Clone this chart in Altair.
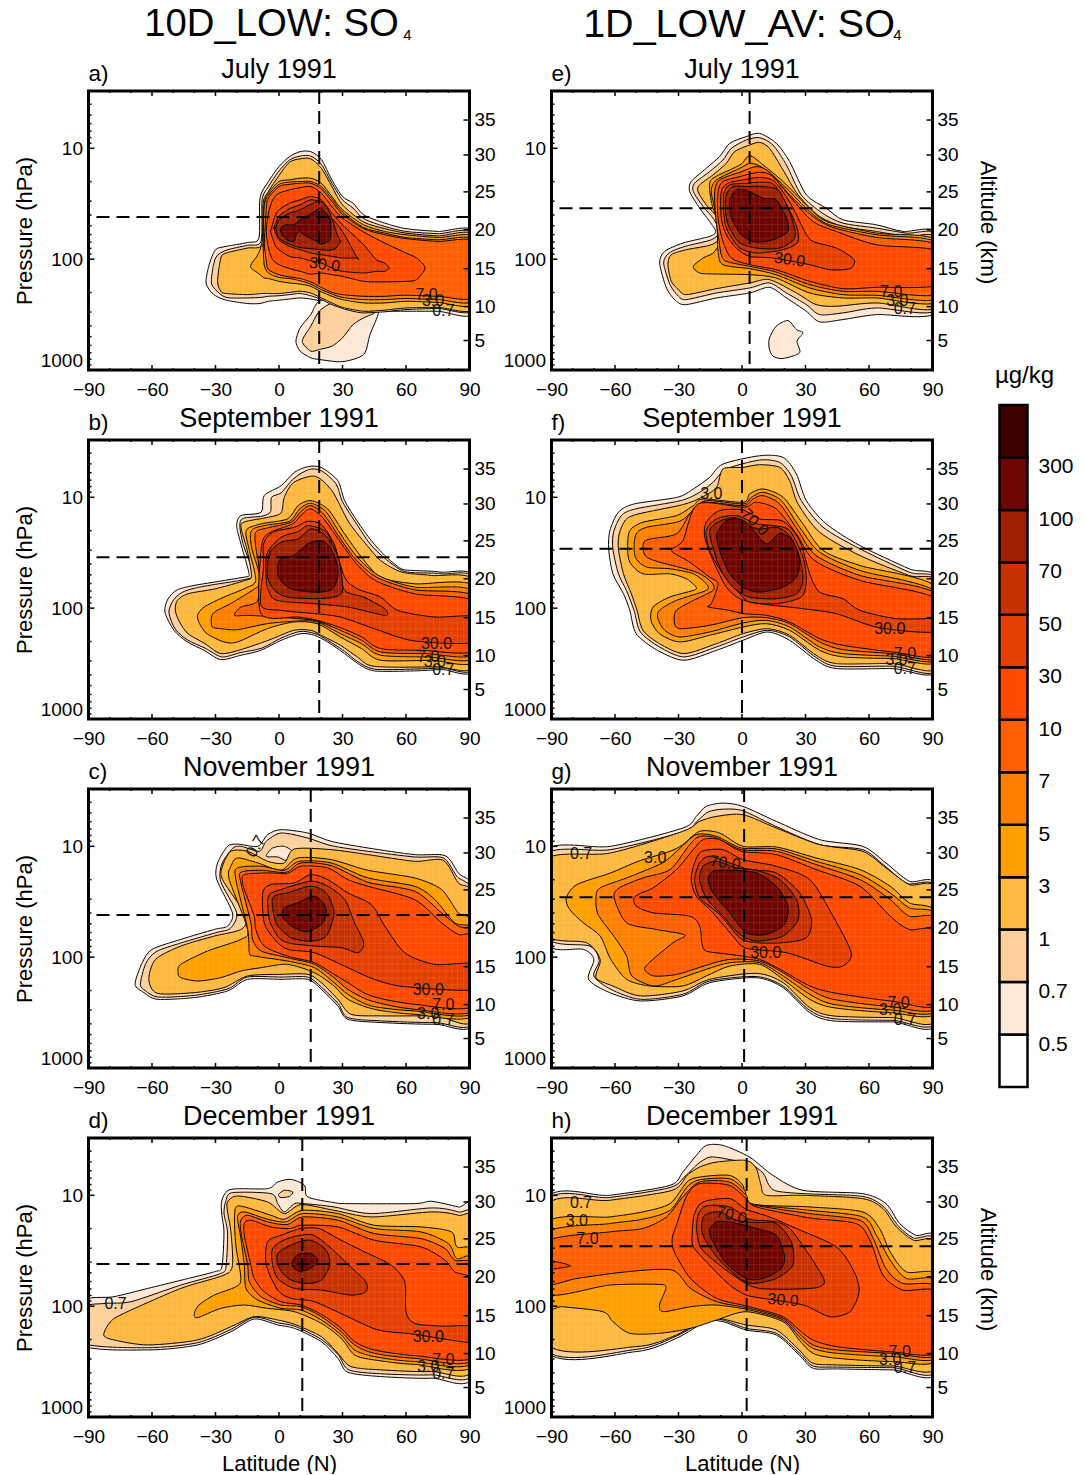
import altair as alt, pandas as pd

FONT = "Liberation Sans"
W, H = 381, 279
LEVEL_COLORS = {0.5:"#FEE8D6",0.7:"#FDD09B",1:"#FDB93F",3:"#FF9F00",5:"#FF8000",7:"#FF5F00",10:"#FF4A00",
                30:"#E54000",50:"#C83200",70:"#9E2000",100:"#6E0500",300:"#3C0000"}
PANELS = ["a","b","c","d","e","f","g","h"]
MONTHS = {"a":"July 1991","b":"September 1991","c":"November 1991","d":"December 1991",
          "e":"July 1991","f":"September 1991","g":"November 1991","h":"December 1991"}
VOLCANO = {"a":(19,1.62),"b":(19,1.54),"c":(15,1.62),"d":(11,1.62),"e":(3.6,1.54),"f":(0,1.465),"g":(1,1.46),"h":(2.2,1.46)}
C = {p:[] for p in PANELS}
def add(p, level, lat, logp):
    C[p].append((level, lat, logp))
def band(p, level, lat, top, bot):
    C[p].append((level, lat+lat[::-1], top+bot[::-1]))
def poly(p, level, pts):
    C[p].append((level, [q[0] for q in pts], [q[1] for q in pts]))

# ---------- panel a : outlines read as latitude / log10(pressure)
add("a",0.5,[-34.5,-33,-30,-25,-15,-9.5,-9,-5,0,5,10,15,20,25,30,35,40,50,60,75,90,90,75,60,50,40,35,30,25,20,15,10,5,0,-5,-9,-15,-25,-30,-33],
 [2.2,2.05,1.915,1.885,1.85,1.81,1.45,1.3,1.165,1.075,1.03,1.03,1.1,1.285,1.435,1.495,1.6,1.675,1.725,1.75,1.765,2.475,2.47,2.47,2.47,2.48,2.455,2.43,2.41,2.38,2.36,2.35,2.36,2.37,2.38,2.4,2.4,2.37,2.33,2.275])
add("a",0.5,[8,10,15,19,30,40,43,47,43,40,30,19,15,10],[2.74,2.62,2.5,2.38,2.35,2.38,2.44,2.48,2.68,2.86,2.925,2.905,2.89,2.83])
add("a",0.7,[11,15,19,25,30,35,40,45,40,35,30,25,19,15],[2.74,2.605,2.47,2.395,2.395,2.425,2.47,2.485,2.53,2.59,2.71,2.785,2.815,2.83])
add("a",0.7,[-32,-30,-25,-15,-8.5,-8,-5,0,5,10,15,20,25,30,35,40,50,60,75,90,90,75,60,50,40,35,30,25,20,15,10,5,0,-5,-8.5,-15,-25,-30],
 [2.2,1.99,1.92,1.875,1.84,1.465,1.345,1.205,1.105,1.07,1.07,1.145,1.315,1.465,1.54,1.635,1.705,1.75,1.77,1.78,2.445,2.445,2.455,2.475,2.485,2.47,2.445,2.41,2.365,2.33,2.31,2.32,2.33,2.335,2.345,2.35,2.345,2.275])
add("a",1,[-29,-27.5,-25,-15,-8,-7.5,-5,0,5,10,15,20,25,30,40,50,60,75,90,90,75,60,50,40,30,25,20,15,10,5,0,-5,-8,-15,-25,-27.5],
 [2.2,1.99,1.945,1.9,1.865,1.495,1.39,1.245,1.125,1.095,1.095,1.18,1.345,1.51,1.665,1.725,1.765,1.79,1.795,2.435,2.435,2.44,2.46,2.47,2.435,2.395,2.35,2.305,2.29,2.3,2.31,2.31,2.31,2.32,2.31,2.29])
add("a",3,[-13.5,-10,-8,-7,-5,0,5,10,15,20,25,30,40,50,60,75,90,90,75,60,50,40,30,25,20,15,10,5,0,-5,-7,-8,-10],
 [2.065,1.96,1.84,1.51,1.405,1.3,1.285,1.27,1.27,1.315,1.435,1.555,1.69,1.75,1.78,1.805,1.815,2.395,2.39,2.38,2.395,2.395,2.365,2.335,2.295,2.245,2.225,2.215,2.2,2.175,2.17,2.155,2.125])
band("a",5,[-7.5,-7,-5,0,5,10,15,20,25,30,40,50,60,75,90],[1.87,1.525,1.425,1.325,1.305,1.3,1.3,1.345,1.455,1.575,1.715,1.765,1.805,1.825,1.835],
 [1.87,2.05,2.125,2.165,2.175,2.195,2.225,2.275,2.315,2.345,2.365,2.365,2.355,2.365,2.365])
band("a",7,[-7,-6,-5,0,5,10,15,20,25,30,40,50,60,75,90],[1.87,1.54,1.45,1.345,1.325,1.315,1.315,1.365,1.48,1.595,1.725,1.78,1.815,1.84,1.85],
 [1.87,2.02,2.095,2.14,2.16,2.175,2.205,2.255,2.3,2.32,2.335,2.335,2.325,2.335,2.335])
add("a",10,[-6,-5,-3,0,5,10,15,20,25,30,40,50,60,65,69,65,60,50,40,30,25,20,15,10,5,0,-3,-5],
 [1.75,1.585,1.465,1.405,1.375,1.355,1.345,1.405,1.525,1.63,1.755,1.855,1.945,1.99,2.08,2.185,2.2,2.205,2.2,2.155,2.14,2.125,2.135,2.11,2.085,2.05,2.005,1.9])
band("a",30,[-4,-2,0,5,10,15,20,25,30,40,46,50,52],[1.75,1.615,1.555,1.495,1.465,1.435,1.465,1.585,1.69,1.87,2.005,2.035,2.08],
 [1.75,1.87,1.915,1.975,1.99,2.015,2.035,2.08,2.11,2.125,2.11,2.11,2.08])
band("a",50,[-2.5,0,5,10,15,20,25,30,37],[1.72,1.615,1.545,1.51,1.465,1.495,1.63,1.75,1.99],[1.72,1.825,1.885,1.915,1.945,1.96,1.975,1.99,1.99])
band("a",70,[-1.5,0,5,10,15,20,24,27,29],[1.72,1.645,1.585,1.555,1.505,1.48,1.585,1.75,1.84],[1.72,1.81,1.865,1.895,1.905,1.915,1.92,1.90,1.84])
add("a",100,[0.5,3,7,9,13,18,20,24,24.5,24,20,18,13,9,7,3],[1.735,1.69,1.69,1.66,1.615,1.555,1.54,1.63,1.735,1.825,1.865,1.84,1.795,1.75,1.84,1.815])

# ---------- panel b
poly("b",0.5,[(-53.9,2.035),(-52.4,1.915),(-48,1.834),(-40.1,1.795),(-30.6,1.765),(-16.4,1.72),(-14.1,1.705),(-15.3,1.6),(-18,1.42),(-20,1.255),(-18,1.165),(-8.5,1.135),(-7,.985),(1,.895),(7.3,.775),(13.6,.724),(19.9,.73),(27.8,.85),(31,1.03),(37.3,1.225),(43.6,1.39),(50,1.525),(57.8,1.645),(64,1.66),(76.8,1.675),(90,1.735),(90,2.545),(76.8,2.554),(64,2.566),(45,2.566),(37.3,2.5),(31,2.41),(23,2.305),(16.7,2.245),(10.4,2.23),(1,2.29),(-8.5,2.38),(-18,2.425),(-27.5,2.464),(-35.4,2.38),(-43.3,2.305),(-49.6,2.2)])
poly("b",0.7,[(-52,2.04),(-50,1.93),(-46,1.86),(-40,1.82),(-30,1.785),(-17,1.745),(-12.5,1.71),(-14,1.58),(-17,1.42),(-18.5,1.26),(-17,1.19),(-8,1.17),(-4,1.13),(-3.5,1.0),(1,.96),(7,.83),(14,.75),(20,.76),(27,.88),(30,1.04),(37,1.25),(43,1.42),(50,1.55),(58,1.66),(64,1.68),(77,1.69),(90,1.75),(90,2.53),(77,2.54),(64,2.55),(45,2.55),(37,2.48),(31,2.39),(23,2.29),(17,2.23),(10,2.21),(1,2.27),(-8,2.36),(-18,2.4),(-27,2.44),(-35,2.36),(-43,2.29),(-49,2.19)])
poly("b",1,[(-49,2.02),(-48,1.93),(-43,1.87),(-30,1.825),(-16,1.75),(-13,1.71),(-15,1.48),(-18,1.27),(-16,1.22),(-5,1.18),(1,1.14),(2.5,1.0),(7,.865),(17,.81),(25,.94),(33,1.225),(41,1.42),(48,1.57),(58,1.675),(72,1.705),(90,1.765),(90,2.515),(74,2.53),(45,2.525),(37,2.44),(29,2.335),(20,2.245),(15,2.2),(7,2.2),(-5,2.29),(-18,2.374),(-27.5,2.41),(-35,2.32),(-43,2.23),(-47,2.125)])
poly("b",3,[(-38.5,2.065),(-35.4,1.99),(-26,1.9),(-16.5,1.825),(-11,1.75),(-14,1.48),(-15.5,1.3),(-8.5,1.24),(4,1.195),(9,1.075),(15,1.03),(23,1.105),(31,1.33),(39,1.54),(48,1.72),(64,1.78),(90,1.81),(90,2.47),(72,2.47),(48,2.47),(39,2.365),(29,2.26),(18,2.14),(7,2.125),(-5.5,2.185),(-19.6,2.305),(-26,2.305),(-34,2.23),(-37.5,2.14)])
poly("b",5,[(-32,2.095),(-30.5,2.035),(-23,1.96),(-11.5,1.825),(-8.5,1.75),(-13,1.45),(-13,1.3),(-7,1.255),(5,1.216),(9.7,1.105),(15,1.054),(22,1.126),(29,1.33),(37,1.54),(47,1.705),(64,1.81),(90,1.855),(90,2.44),(70,2.44),(48,2.425),(39,2.32),(29,2.23),(18,2.125),(9,2.116),(-5.5,2.14),(-19.6,2.194),(-27.5,2.185),(-31.5,2.17)])
poly("b",7,[(-21,2.065),(-18,1.99),(-10,1.93),(-9.5,1.63),(-11,1.45),(-11,1.315),(-5.5,1.276),(5.7,1.225),(10.4,1.126),(15,1.075),(21,1.15),(28,1.345),(36,1.555),(46,1.72),(64,1.834),(90,1.9),(90,2.41),(69,2.41),(48,2.395),(39,2.29),(29,2.2),(18,2.116),(9,2.095),(-5.5,2.074),(-15,2.065)])
poly("b",10,[(-8.5,2.05),(-8.5,1.48),(-5.4,1.33),(6.4,1.24),(11,1.15),(15,1.105),(20.5,1.18),(28,1.375),(36,1.585),(45.5,1.75),(64,1.87),(90,1.945),(90,2.38),(67,2.38),(48,2.365),(39,2.26),(29,2.176),(18,2.11),(9,2.08)])
poly("b",30,[(-8.5,1.975),(-7.3,1.63),(-7.3,1.42),(-3,1.315),(7.3,1.27),(13.6,1.216),(20,1.246),(26,1.42),(31,1.72),(37,1.825),(48,1.9),(56,2.02),(73.6,2.08),(90,2.08),(90,2.305),(64,2.296),(45,2.185),(29,2.08),(17,2.05),(1,2.02)])
poly("b",50,[(-6,1.75),(-5.7,1.51),(1,1.36),(9,1.31),(14,1.255),(23,1.33),(28.6,1.63),(31,1.84),(40,1.9),(50,2.005),(51,2.065),(46,2.05),(32.5,1.99),(17,1.96),(-1,1.93),(-5,1.84)])
poly("b",70,[(-5.4,1.72),(-4.6,1.51),(1,1.405),(9,1.375),(15,1.285),(22,1.345),(28,1.54),(30,1.84),(26,1.9),(17,1.915),(4,1.9),(-2,1.84)])
poly("b",100,[(-.6,1.66),(.6,1.555),(7,1.525),(13.6,1.42),(20,1.39),(24.6,1.465),(28,1.66),(25.4,1.825),(17,1.855),(5.7,1.825),(.2,1.735)])

# ---------- panel c
poly("c",0.5,[(-68,2.245),(-64.6,2.05),(-60,1.93),(-46.4,1.84),(-30.6,1.75),(-24.3,1.72),(-22,1.6),(-29.4,1.3),(-29,1.15),(-24.3,1.0),(-19.6,.98),(-10,1.0),(-5.4,.895),(1,.85),(13.6,.88),(24.6,.955),(42,1.015),(64,1.075),(78.4,1.084),(84.7,1.24),(90,1.45),(90,2.575),(73.6,2.605),(48.3,2.59),(32.5,2.56),(27.8,2.44),(20,2.29),(13.6,2.2),(1,2.2),(-14.8,2.2),(-24.3,2.305),(-40,2.365),(-57.5,2.38),(-63.8,2.32)])
poly("c",0.7,[(-65.5,2.245),(-63,2.06),(-58,1.95),(-46,1.87),(-30,1.78),(-23,1.74),(-20,1.6),(-27.5,1.32),(-27,1.16),(-22,1.02),(-18,1.0),(-9.3,1.045),(-6,.955),(1,.88),(13.6,.925),(24.6,.994),(42,1.045),(64,1.096),(77.6,1.105),(84,1.27),(90,1.48),(90,2.56),(73.6,2.59),(48,2.575),(32.5,2.545),(28,2.42),(20,2.27),(13.6,2.18),(1,2.18),(-15,2.18),(-24,2.285),(-40,2.345),(-57,2.36),(-63,2.305)])
poly("c",0.5,[(-6,1.09),(-3,1.015),(2.5,1.0),(6.5,1.055),(3.3,1.126),(-.6,1.096)])
poly("c",1,[(-61.5,2.2),(-58.3,2.02),(-46.4,1.9),(-30.6,1.81),(-18,1.75),(-15.6,1.63),(-26.7,1.3),(-26.7,1.18),(-22.7,1.045),(-14.8,1.045),(-5.4,1.135),(2.5,1.15),(7.3,1.024),(24.6,1.03),(42,1.075),(64,1.135),(77.6,1.126),(84.7,1.33),(90,1.48),(90,2.545),(73.6,2.53),(48.3,2.53),(34,2.515),(27.8,2.38),(20,2.23),(13.6,2.155),(1,2.155),(-14.8,2.17),(-26,2.275),(-40,2.32),(-57.5,2.326)])
poly("c",3,[(-47.7,2.14),(-46.4,2.065),(-33.8,1.945),(-18,1.84),(-14.8,1.75),(-23.5,1.3),(-22.7,1.18),(-19.6,1.105),(-10,1.15),(1,1.216),(8.8,1.105),(24.6,1.12),(42,1.216),(64,1.285),(76.8,1.39),(84.7,1.6),(90,1.72),(90,2.51),(64,2.515),(45,2.47),(32.5,2.38),(26,2.26),(16.7,2.14),(4,2.065),(-8.5,2.095),(-18,2.125),(-27.5,2.185),(-38.5,2.215),(-46.4,2.185)])
poly("c",5,[(-20.4,1.3),(-19.6,1.195),(-8.5,1.18),(2.5,1.216),(9.6,1.135),(24.6,1.15),(42,1.285),(64,1.36),(73.6,1.48),(83,1.69),(90,1.78),(90,2.49),(64,2.485),(43.6,2.44),(32.5,2.335),(26,2.23),(16.7,2.095),(4,2.035),(-11.7,1.99),(-14,1.96),(-14.8,1.75)])
poly("c",7,[(-18,1.33),(-18,1.234),(-8.5,1.216),(3.3,1.234),(10.4,1.15),(24.6,1.174),(42,1.324),(64,1.405),(76.8,1.6),(84.7,1.72),(90,1.8),(90,2.47),(64,2.47),(43.6,2.395),(32.5,2.29),(26,2.185),(16.7,2.065),(4,2.005),(-8.5,1.945),(-12.5,1.84),(-13.3,1.69)])
poly("c",10,[(-17.2,1.33),(-16.4,1.255),(-3.8,1.24),(4,1.246),(10.4,1.18),(23,1.195),(32.5,1.3),(42,1.36),(64,1.48),(76.8,1.69),(84.7,1.795),(90,1.83),(90,2.43),(64,2.425),(43.6,2.35),(32.5,2.23),(26,2.155),(16.7,2.05),(4,1.99),(-7,1.9),(-11,1.75),(-11.7,1.63),(-16.4,1.39)])
poly("c",30,[(-7.7,1.42),(-3.8,1.345),(7.3,1.33),(15,1.255),(23,1.3),(32.5,1.42),(43.6,1.525),(50,1.72),(59.4,1.96),(73.6,2.065),(90,2.065),(90,2.29),(59.4,2.266),(45,2.2),(32.5,2.095),(16.7,1.96),(4,1.93),(-2,1.84),(-7,1.69)])
poly("c",50,[(-5,1.45),(1,1.39),(15,1.315),(23,1.36),(31,1.48),(35.7,1.69),(40,1.87),(37.3,1.96),(29.4,1.915),(16.7,1.9),(4,1.87),(-.6,1.81),(-4.6,1.66)])
poly("c",70,[(-3,1.465),(4,1.42),(15,1.36),(22.3,1.42),(26,1.6),(22.3,1.81),(15,1.855),(5.7,1.825),(-1.4,1.69)])
poly("c",100,[(1.7,1.615),(2.5,1.555),(8.8,1.51),(16.7,1.45),(22.3,1.555),(20.7,1.69),(13.6,1.77),(7.3,1.735),(2.5,1.66)])

# ---------- panel d
poly("d",0.5,[(-90,1.96),(-78,1.915),(-62,1.84),(-46,1.765),(-30.6,1.69),(-27,1.645),(-26,1.33),(-27,1.18),(-27,1.045),(-22.7,.946),(-5.4,.94),(-.6,.88),(5.7,.856),(12,.91),(13.6,1.015),(26,1.066),(32.5,1.075),(64,1.075),(72,1.054),(84.7,1.105),(90,1.15),(90,2.596),(72,2.65),(48,2.635),(32.5,2.596),(27.8,2.47),(20,2.32),(7.3,2.2),(-.6,2.17),(-11.7,2.116),(-22.7,2.23),(-38.5,2.35),(-62,2.395),(-90,2.35)])
poly("d",0.7,[(-90,2.02),(-82,1.975),(-70,1.96),(-46.4,1.81),(-27.5,1.705),(-25,1.63),(-24.3,1.33),(-26,1.165),(-25,1.045),(-22,.976),(-3.8,.985),(-.6,1.075),(2.5,1.15),(7.3,1.075),(12,1.075),(26,1.105),(43.6,1.165),(72,1.114),(84.7,1.15),(90,1.24),(90,2.57),(72,2.62),(48,2.61),(33,2.575),(28,2.44),(20,2.3),(7.3,2.18),(-.6,2.15),(-11.7,2.1),(-22.7,2.21),(-38.5,2.33),(-62,2.375),(-90,2.33)])
poly("d",0.7,[(-.3,.994),(2.5,.955),(6.5,.97),(4.9,1.01),(1,1.02)])
poly("d",1,[(-82.8,2.26),(-79.6,2.14),(-73.3,2.065),(-46.4,1.84),(-26,1.72),(-22,1.63),(-22.7,1.33),(-24.3,1.15),(-24.3,1.06),(-19.6,1.006),(-5.4,1.06),(2.5,1.165),(10.4,1.084),(26,1.135),(43.6,1.195),(72,1.15),(84.7,1.18),(90,1.27),(90,2.54),(72,2.59),(48.3,2.575),(34,2.545),(27.8,2.425),(20,2.275),(7.3,2.164),(-.6,2.125),(-11.7,2.095),(-22.7,2.185),(-38.5,2.305),(-62,2.35),(-78,2.305)])
poly("d",3,[(-40,2.065),(-37.8,1.99),(-30.6,1.9),(-20.4,1.825),(-18,1.75),(-20.4,1.45),(-21,1.18),(-18.8,1.096),(-3.8,1.18),(2.5,1.216),(11.2,1.135),(27.8,1.165),(45,1.27),(67,1.285),(81.5,1.33),(84,1.465),(90,1.55),(90,2.52),(64,2.525),(45,2.485),(35.7,2.44),(29.4,2.29),(20,2.155),(7.3,2.05),(-5.4,2.02),(-16.4,1.99),(-27.5,2.02),(-38.5,2.104)])
poly("d",5,[(-18,1.39),(-19.6,1.195),(-16.4,1.15),(-5.4,1.216),(3.3,1.24),(11.2,1.165),(27.8,1.195),(45,1.3),(67,1.33),(80,1.435),(84,1.57),(90,1.6),(90,2.49),(64,2.5),(45,2.455),(35.7,2.395),(29.4,2.26),(20,2.125),(10.4,2.035),(1,2.02),(-10,1.945),(-15.6,1.84),(-16.4,1.63)])
poly("d",7,[(-18,1.33),(-18,1.225),(-14.8,1.18),(-5.4,1.24),(4,1.264),(11.2,1.195),(27.8,1.225),(45,1.345),(67,1.39),(78.4,1.48),(83,1.585),(90,1.66),(90,2.47),(64,2.47),(45,2.425),(35.7,2.35),(29.4,2.23),(20,2.095),(10.4,2.005),(1,1.99),(-8.5,1.915),(-14,1.78),(-14.8,1.63)])
poly("d",10,[(-16.4,1.36),(-16.4,1.255),(-13.3,1.225),(-3.8,1.285),(4.9,1.3),(11.2,1.27),(27.8,1.285),(45,1.405),(67,1.465),(78.4,1.585),(83,1.69),(90,1.8),(90,2.45),(64,2.446),(45,2.395),(35.7,2.32),(29.4,2.2),(20,2.074),(10.4,1.99),(1,1.96),(-7,1.87),(-11.7,1.75),(-13.3,1.63)])
poly("d",30,[(-5.4,1.42),(1,1.36),(10.4,1.3),(19,1.3),(27.8,1.39),(40.4,1.51),(53,1.63),(59.4,1.78),(60,2.05),(64,2.155),(76.8,2.18),(90,2.185),(90,2.33),(64,2.254),(46.8,2.215),(32.5,2.095),(16.7,1.96),(5.7,1.93),(-.6,1.855),(-6,1.63)])
poly("d",50,[(-3,1.48),(4,1.39),(15,1.354),(23,1.45),(33,1.63),(41,1.78),(41,1.87),(34,1.9),(20,1.855),(7.3,1.84),(-.6,1.75),(-3,1.63)])
poly("d",70,[(-.6,1.525),(7.3,1.435),(15,1.405),(22.3,1.495),(24,1.63),(20,1.765),(13.6,1.795),(5.7,1.765),(.2,1.66)])
poly("d",100,[(6,1.615),(8.8,1.534),(15,1.525),(18.3,1.585),(16,1.645),(10.4,1.69),(7.3,1.66)])

# ---------- panel e
poly("e",0.5,[(-38.9,2.035),(-36.5,1.93),(-27.9,1.855),(-15.3,1.795),(-12.4,1.75),(-15.3,1.66),(-20,1.54),(-24.7,1.39),(-24,1.3),(-16.9,1.18),(-10.6,1.075),(-5.8,.955),(2,.895),(8.3,.865),(16.2,.955),(22.5,1.12),(30.4,1.42),(39.8,1.54),(47.7,1.645),(63.5,1.69),(76,1.75),(90,1.775),(90,2.47),(63.5,2.5),(47.7,2.545),(36.7,2.566),(30.4,2.47),(21,2.35),(13,2.254),(3.6,2.305),(-12,2.35),(-26.3,2.41),(-31,2.38),(-35.7,2.26)])
poly("e",0.5,[(12.8,2.8),(13,2.71),(16.2,2.605),(21.7,2.554),(25.7,2.635),(28.8,2.665),(26,2.74),(27.2,2.845),(19.4,2.896),(14.6,2.875)])
poly("e",0.7,[(-37,2.035),(-34.5,1.945),(-27,1.885),(-14.5,1.825),(-10.6,1.75),(-13.7,1.63),(-18.4,1.525),(-23,1.39),(-22.4,1.315),(-15.3,1.21),(-9,1.105),(-5,1.0),(2,.925),(8.3,.904),(14.6,.97),(21,1.15),(28,1.42),(38,1.585),(47.7,1.675),(63.5,1.72),(77.6,1.765),(90,1.795),(90,2.45),(63.5,2.44),(47.7,2.485),(36.7,2.5),(30.4,2.41),(21,2.305),(13,2.215),(3.6,2.26),(-12,2.305),(-26.3,2.365),(-30,2.335),(-34,2.23)])
poly("e",1,[(-35,2.05),(-33.4,1.96),(-26.3,1.915),(-13.7,1.864),(-8.2,1.75),(-11.3,1.63),(-16.9,1.51),(-20.8,1.39),(-20,1.33),(-13.7,1.24),(-7.4,1.135),(-3.5,1.03),(3.6,.97),(8.3,.946),(13,1.0),(19.4,1.195),(26.5,1.42),(36.7,1.615),(47.7,1.705),(63.5,1.75),(77.6,1.795),(90,1.82),(90,2.43),(63.5,2.395),(44.6,2.425),(35,2.41),(25.7,2.305),(13,2.185),(3.6,2.215),(-12,2.266),(-26.3,2.32),(-30,2.275),(-33.4,2.2)])
poly("e",3,[(-23,2.065),(-18.4,1.99),(-13.7,1.945),(-9.8,1.84),(-9,1.75),(-13.7,1.54),(-15.3,1.36),(-13.7,1.27),(-1,1.15),(3.6,1.066),(10,1.15),(19.4,1.3),(30.4,1.51),(40,1.66),(63.5,1.765),(90,1.84),(90,2.38),(63.5,2.35),(47.7,2.35),(32,2.305),(16,2.17),(3.6,2.14),(-12,2.134),(-20,2.125)])
poly("e",5,[(-11.3,1.93),(-12,1.63),(-14.5,1.39),(-12,1.285),(-1,1.18),(4.4,1.135),(11.5,1.195),(21,1.36),(32,1.57),(41.4,1.69),(63.5,1.78),(90,1.86),(90,2.35),(63.5,2.326),(47.7,2.32),(32,2.26),(16,2.14),(3.6,2.086),(-9,2.05)])
poly("e",7,[(-10.6,1.87),(-12.4,1.63),(-12.9,1.39),(-10.6,1.285),(-1,1.216),(6.8,1.165),(13,1.216),(22.5,1.42),(33.5,1.615),(43,1.714),(63.5,1.804),(90,1.88),(90,2.31),(63.5,2.29),(47.7,2.29),(32,2.23),(16,2.116),(3.6,2.065),(-7.4,2.02),(-9.8,1.96)])
poly("e",10,[(-9,1.84),(-11.3,1.63),(-11.3,1.39),(-9,1.3),(-1,1.255),(8.3,1.216),(14.6,1.255),(23.3,1.45),(33.5,1.66),(44.6,1.75),(63.5,1.87),(90,1.93),(90,2.23),(63.5,2.254),(47.7,2.266),(32,2.2),(16,2.095),(3.6,2.05),(-5,1.99)])
poly("e",30,[(-7.4,1.78),(-9.8,1.63),(-9.8,1.39),(-6.6,1.315),(.5,1.285),(8.3,1.264),(15.4,1.3),(23.3,1.51),(29.6,1.75),(33.5,1.84),(44.6,1.9),(53,2.005),(51,2.086),(41.4,2.095),(32,2.05),(14.6,1.99),(3.6,1.975),(-2.7,1.9)])
poly("e",50,[(-8.2,1.66),(-8.7,1.42),(-5.8,1.33),(2,1.315),(10,1.306),(16,1.345),(24.9,1.66),(26.5,1.84),(19.4,1.915),(6.8,1.945),(-1,1.9),(-5.8,1.78)])
poly("e",70,[(-7.4,1.63),(-7.7,1.435),(-4.3,1.345),(2,1.345),(10,1.345),(17.8,1.39),(24,1.66),(24.9,1.81),(17.8,1.9),(6.8,1.9),(-1,1.855),(-5,1.75)])
poly("e",100,[(-5.5,1.6),(-5.8,1.465),(-2.7,1.375),(2.8,1.384),(10,1.45),(16.2,1.465),(21,1.63),(21.7,1.75),(14.6,1.825),(6.8,1.846),(.5,1.795),(-3.5,1.69)])

# ---------- panel f
poly("f",0.5,[(-63,1.465),(-62.4,1.3),(-58.4,1.135),(-51,1.06),(-30.6,1.0),(-23,.925),(-15.3,.82),(-9,.7),(8.3,.625),(19.4,.64),(25.7,.79),(30.4,1.03),(39.8,1.24),(55.7,1.435),(79,1.645),(90,1.75),(90,2.56),(71,2.545),(44.6,2.545),(35,2.47),(22.5,2.29),(12,2.215),(.5,2.29),(-12,2.38),(-27.4,2.47),(-40,2.38),(-50,2.23),(-53,2.02),(-56,1.87),(-61,1.69)])
poly("f",0.7,[(-61,1.465),(-60.7,1.315),(-57,1.165),(-50.4,1.105),(-29,1.03),(-20,.955),(-13.7,.865),(-7.4,.745),(8.3,.664),(17.8,.685),(23.3,.805),(28,1.03),(38.3,1.27),(55.7,1.465),(79,1.675),(90,1.765),(90,2.55),(71,2.524),(44.6,2.524),(35,2.446),(22.5,2.26),(12,2.2),(.5,2.26),(-12,2.35),(-27.4,2.44),(-39,2.35),(-48,2.215),(-51,2.02),(-54.6,1.84),(-58.4,1.69)])
poly("f",1,[(-58.4,1.465),(-58,1.33),(-55,1.204),(-49,1.15),(-28,1.066),(-19,1.0),(-12,.91),(-9,.745),(.5,.73),(8.3,.706),(17.8,.73),(22.5,.85),(26.5,1.06),(36.7,1.315),(55.7,1.525),(79,1.705),(90,1.78),(90,2.53),(71,2.5),(44.6,2.5),(35,2.425),(22.5,2.245),(12,2.185),(.5,2.23),(-12,2.32),(-27.4,2.41),(-39,2.32),(-46.8,2.2),(-49.6,2.02),(-52.3,1.87),(-56,1.69)])
poly("f",3,[(-54,1.45),(-53,1.3),(-46.8,1.225),(-31,1.165),(-23,1.075),(-18.4,1.015),(.5,1.045),(3.6,.97),(10,.925),(19.4,1.0),(28.8,1.24),(38.3,1.48),(55.7,1.615),(90,1.825),(90,2.47),(71,2.455),(47.7,2.44),(36.7,2.38),(22.5,2.2),(11.5,2.14),(.5,2.17),(-15.3,2.245),(-29.4,2.305),(-39,2.23),(-43,2.11),(-42,1.99),(-34.2,1.9),(-23,1.84),(-21.7,1.81),(-26.3,1.735),(-34.2,1.69),(-46.8,1.69),(-53,1.585)])
poly("f",5,[(-51,1.45),(-50,1.33),(-45,1.27),(-29.4,1.216),(-22.4,1.105),(-16.9,1.03),(.5,1.06),(4.4,1.0),(10,.955),(18.6,1.03),(27.2,1.27),(36.7,1.495),(55.7,1.66),(90,1.87),(90,2.455),(71,2.434),(47.7,2.41),(36.7,2.35),(22.5,2.17),(11.5,2.11),(.5,2.134),(-15.3,2.215),(-29.4,2.26),(-36.5,2.2),(-39.7,2.095),(-39,2.02),(-31,1.93),(-16.9,1.84),(-16.9,1.78),(-23,1.69),(-34,1.645),(-45,1.63),(-50,1.555)])
poly("f",7,[(-46.8,1.465),(-45,1.384),(-31,1.33),(-24.7,1.15),(-18.4,1.045),(.5,1.075),(5.2,1.015),(10,.985),(17.8,1.06),(26.5,1.3),(35,1.525),(55.7,1.705),(90,1.885),(90,2.44),(71,2.41),(47.7,2.374),(36.7,2.305),(22.5,2.14),(11.5,2.086),(.5,2.086),(-15.3,2.155),(-29.4,2.185),(-32,2.125),(-31,2.02),(-23,1.93),(-13.7,1.84),(-14.5,1.765),(-21.6,1.675),(-38.9,1.585),(-45,1.54)])
poly("f",10,[(-33.4,1.48),(-27.9,1.39),(-20.8,1.06),(.5,1.09),(6.8,1.045),(16.2,1.105),(25.7,1.33),(34.3,1.57),(55.7,1.75),(90,1.93),(90,2.42),(71,2.395),(47.7,2.335),(36.7,2.275),(22.5,2.125),(11.5,2.065),(.5,2.05),(-5.8,2.02),(-16,1.99),(-14.5,1.96),(-11.3,1.78),(-15.3,1.72),(-24.7,1.585)])
poly("f",30,[(-16.9,1.225),(-10.6,1.12),(.5,1.114),(8.3,1.195),(19.4,1.216),(27.2,1.39),(32,1.69),(36.7,1.855),(47.7,1.915),(55.7,2.02),(73,2.095),(90,2.1),(90,2.21),(79,2.21),(62,2.164),(44.6,2.05),(29,2.005),(8.3,1.96),(-1,1.915),(-7.4,1.81),(-13.7,1.57),(-17.6,1.36)])
poly("f",50,[(-16.9,1.3),(-12,1.195),(-2.7,1.165),(6.8,1.24),(14.6,1.255),(22.5,1.3),(28.8,1.54),(30.4,1.75),(28,1.9),(16.2,1.96),(3.6,1.945),(-1,1.87),(-9,1.69),(-15.3,1.48)])
poly("f",70,[(-15.3,1.315),(-10.6,1.216),(-2.7,1.186),(6.8,1.285),(16.2,1.27),(22.5,1.345),(27.2,1.54),(28.8,1.75),(25.7,1.87),(16.2,1.915),(3.6,1.9),(-4.3,1.81),(-10.6,1.63)])
poly("f",100,[(-11.8,1.33),(-7.4,1.21),(-1,1.195),(3.6,1.255),(11.5,1.42),(17.8,1.324),(24,1.39),(27.2,1.57),(25.7,1.72),(19.4,1.81),(8.3,1.855),(.5,1.81),(-5.8,1.69),(-10.6,1.48)])

# ---------- panel g
poly("g",0.5,[(-90,1.045),(-62,1.0),(-27.9,.835),(-21.6,.73),(-17,.64),(-9,.61),(.5,.64),(16.2,.775),(36.7,.94),(57,1.0),(68,1.15),(79,1.315),(90,1.39),(90,2.58),(71,2.584),(43,2.575),(32,2.5),(19.4,2.275),(6.8,2.185),(-15.3,2.23),(-27.9,2.35),(-48,2.395),(-62.5,2.32),(-72.5,2.2),(-70,2.02),(-75,1.93),(-90,1.864)])
poly("g",0.7,[(-90,1.08),(-62,1.03),(-28,.87),(-21,.77),(-16,.69),(-9,.665),(.5,.68),(16,.82),(36.7,.985),(57,1.03),(67,1.17),(78,1.335),(90,1.41),(90,2.56),(71,2.57),(43,2.555),(32,2.48),(19.4,2.26),(6.8,2.175),(-15.3,2.215),(-27.9,2.335),(-48,2.38),(-62,2.29),(-70,2.17),(-67.5,2.03),(-72,1.9),(-90,1.81)])
poly("g",1,[(-90,1.126),(-62,1.06),(-28,.865),(-20,.775),(-12,.73),(.5,.715),(16.2,.835),(36.7,.985),(57,1.045),(68,1.195),(79,1.345),(90,1.42),(90,2.54),(71,2.545),(43,2.53),(32,2.455),(19.4,2.23),(6.8,2.146),(-15.3,2.2),(-27.9,2.305),(-48,2.35),(-61,2.26),(-69,2.185),(-67,2.02),(-73.5,1.87),(-90,1.786)])
poly("g",3,[(-83,1.465),(-78,1.345),(-62,1.24),(-49,1.135),(-34,1.045),(-28,.985),(-20,.865),(-10.6,.88),(.5,1.0),(16.2,1.006),(35,1.105),(55.7,1.21),(70,1.36),(79,1.51),(90,1.63),(90,2.48),(70,2.5),(43,2.455),(32,2.38),(19.4,2.2),(8.3,2.065),(-5.8,2.08),(-16.9,2.17),(-27.9,2.26),(-43.6,2.26),(-54.5,2.2),(-62,2.02),(-67,1.81),(-75,1.69),(-81.4,1.57)])
poly("g",5,[(-69,1.465),(-67,1.375),(-54.5,1.285),(-37.6,1.15),(-30,1.03),(-21.6,.895),(-12,.91),(-.3,1.015),(16.2,1.024),(35,1.135),(55.7,1.255),(70,1.42),(79,1.555),(90,1.65),(90,2.46),(70,2.476),(43,2.425),(32,2.335),(19.4,2.17),(8.3,2.05),(-5.8,2.05),(-16.9,2.11),(-30.6,2.2),(-41.6,2.26),(-52,2.17),(-54.5,1.99),(-60,1.825),(-68,1.615)])
poly("g",7,[(-60.4,1.465),(-58,1.375),(-46.8,1.285),(-34,1.21),(-24.7,.985),(-20,.91),(-12,.925),(-.3,1.03),(16.2,1.045),(35,1.165),(55.7,1.3),(70,1.48),(79,1.63),(90,1.68),(90,2.44),(70,2.446),(43,2.38),(32,2.29),(19.4,2.14),(8.3,2.035),(-5.8,2.02),(-18,2.08),(-30.6,2.155),(-41.6,2.17),(-46,2.11),(-43,2.035),(-32.6,1.87),(-27,1.8),(-40.5,1.75),(-54.5,1.69)])
poly("g",10,[(-51,1.465),(-47.6,1.42),(-42,1.375),(-31,1.21),(-23,1.03),(-18.4,.94),(-10.6,.94),(-.3,1.045),(16.2,1.075),(35,1.21),(55.7,1.36),(70,1.63),(79,1.75),(90,1.78),(90,2.42),(70,2.395),(43,2.32),(32,2.26),(19.4,2.125),(8.3,2.02),(-5.8,1.975),(-16.9,1.945),(-19,1.87),(-20,1.72),(-24.7,1.63),(-42,1.6),(-50,1.54)])
poly("g",30,[(-24,1.3),(-22.4,1.15),(-19,1.045),(-9,1.03),(.5,1.12),(16.2,1.18),(32,1.3),(43,1.63),(51.6,1.96),(47.7,2.08),(40,2.08),(21,1.96),(2,1.92),(-4.3,1.81),(-13.7,1.6),(-21.6,1.45)])
poly("g",50,[(-22.4,1.3),(-20,1.15),(-15.3,1.09),(-5.8,1.15),(3.6,1.21),(16.2,1.24),(27.2,1.42),(32.8,1.66),(30.4,1.825),(19.4,1.87),(6.8,1.87),(-1,1.825),(-10.6,1.615),(-20,1.465)])
poly("g",70,[(-20,1.3),(-18.4,1.18),(-12,1.135),(-2.7,1.195),(6.8,1.216),(17.8,1.3),(25.7,1.48),(26.5,1.66),(19.4,1.81),(6.8,1.855),(-1,1.795),(-9,1.63),(-16.9,1.465)])
poly("g",100,[(-16,1.3),(-13.7,1.225),(-5.8,1.216),(6.8,1.24),(16.2,1.36),(21.7,1.54),(20,1.705),(11.5,1.795),(2,1.78),(-5.8,1.6),(-13.7,1.42)])

# ---------- panel h
poly("h",0.5,[(-90,1.054),(-62.5,1.0),(-34,.91),(-28,.79),(-21.6,.64),(-16.9,.55),(-9,.55),(3.6,.655),(14.6,.82),(28.8,.955),(57,.985),(68,1.075),(74.5,1.255),(82,1.36),(90,1.43),(90,2.58),(71,2.575),(44.6,2.566),(33.5,2.56),(27,2.44),(16.2,2.26),(2,2.215),(-9,2.14),(-16.9,2.14),(-31,2.29),(-50,2.41),(-90,2.395)])
poly("h",0.7,[(-90,1.075),(-62.5,1.02),(-34,.93),(-27,.83),(-21,.72),(-15,.655),(-5,.68),(4,.72),(10,.8),(12.5,.9),(16,.96),(28.8,.985),(57,1.01),(67,1.105),(74,1.28),(81,1.385),(90,1.45),(90,2.56),(71,2.555),(44.6,2.55),(33.5,2.54),(27,2.42),(16.2,2.245),(2,2.2),(-9,2.125),(-16.9,2.125),(-31,2.27),(-50,2.39),(-90,2.38)])
poly("h",1,[(-90,1.114),(-62.5,1.045),(-33,.955),(-26,.82),(-20,.745),(-12,.7),(2,.685),(6.8,.76),(9,.91),(11.5,1.0),(28.8,1.0),(57,1.03),(66.6,1.12),(73,1.285),(81,1.405),(90,1.47),(90,2.53),(71,2.54),(44.6,2.53),(33.5,2.515),(27,2.395),(16.2,2.215),(2,2.17),(-9,2.116),(-16.9,2.11),(-31,2.26),(-50,2.365),(-90,2.326)])
poly("h",3,[(-90,1.255),(-62.5,1.195),(-47,1.15),(-34,1.075),(-26,.88),(-20,.835),(-6,.82),(.5,.91),(3.6,1.075),(32,1.105),(57,1.15),(65,1.3),(70,1.51),(77.6,1.69),(90,1.74),(90,2.47),(71,2.5),(44.6,2.47),(33.5,2.425),(27,2.305),(19.4,2.14),(2,2.05),(-12,2.125),(-24.3,2.2),(-38.9,2.245),(-53,2.245),(-61,2.14),(-65.7,2.05),(-84.6,2.005),(-90,1.99)])
poly("h",5,[(-90,1.345),(-62.5,1.255),(-47,1.216),(-34,1.135),(-26,.925),(-20,.86),(-6,.85),(1.3,.955),(4.4,1.075),(32,1.135),(57,1.195),(63.5,1.36),(70,1.585),(77.6,1.75),(90,1.79),(90,2.45),(71,2.455),(44.6,2.425),(33.5,2.38),(27,2.275),(19.4,2.125),(3.6,2.035),(-12,1.99),(-24.3,2.005),(-37,2.05),(-39,1.99),(-36,1.84),(-38.9,1.804),(-62.5,1.81),(-90,1.885)])
poly("h",7,[(-90,1.42),(-62.5,1.33),(-47,1.3),(-35.7,1.195),(-28,1.015),(-20,.88),(-6,.88),(2,1.0),(5.2,1.084),(32,1.165),(55.7,1.225),(62,1.39),(68,1.66),(76,1.795),(90,1.84),(90,2.43),(71,2.425),(44.6,2.395),(33.5,2.35),(27,2.245),(19.4,2.11),(3.6,2.02),(-12,1.96),(-24.3,1.84),(-33,1.675),(-54.5,1.69),(-78,1.75),(-90,1.795)])
poly("h",10,[(-90,1.585),(-81,1.636),(-90,1.666)])
poly("h",10,[(-33,1.39),(-31,1.27),(-26,1.0),(-20,.895),(-6,.91),(2,1.03),(6.8,1.105),(32,1.204),(54,1.255),(60.8,1.42),(66.6,1.72),(76,1.855),(90,1.88),(90,2.41),(69.5,2.41),(44.6,2.365),(33.5,2.305),(27,2.215),(19.4,2.095),(3.6,2.005),(-12,1.93),(-24.3,1.75),(-32,1.51)])
poly("h",30,[(-23.5,1.33),(-22.4,1.165),(-18.4,1.06),(-5.8,1.03),(2,1.126),(13,1.195),(25.7,1.3),(44.6,1.465),(53,1.69),(55.3,1.87),(51,2.05),(41.4,2.095),(29,1.99),(10,1.93),(2,1.9),(-5.8,1.81),(-15.3,1.63),(-23,1.465)])
poly("h",50,[(-21.3,1.33),(-20.8,1.18),(-16.9,1.096),(-5.8,1.105),(3.6,1.216),(16.2,1.24),(24,1.33),(38.2,1.735),(36.7,1.825),(25.7,1.846),(8.3,1.84),(.5,1.78),(-10.6,1.63),(-19.2,1.48)])
poly("h",70,[(-19.2,1.3),(-17.6,1.18),(-10.6,1.15),(-2.7,1.225),(6.8,1.246),(16.2,1.255),(23.3,1.42),(24,1.63),(16.2,1.75),(5.2,1.795),(-1,1.75),(-10.6,1.585),(-16.9,1.42)])
poly("h",100,[(-15.3,1.315),(-12,1.24),(-4.3,1.246),(6.8,1.3),(16.2,1.36),(20,1.54),(18.6,1.66),(10,1.75),(2,1.75),(-7.4,1.615),(-13.7,1.42)])

LABELS = {
 "a":[("30.0",21.5,2.05,8),("7.0",69.7,2.326,0),("3.0",72.8,2.38,0),("0.7",77.6,2.47,0)],
 "b":[("30.0",74.4,2.32,0),("7.0",70.5,2.44,0),("3.0",73.6,2.485,0),("0.7",77.6,2.554,0)],
 "c":[("0.7",-11,1.0,300),("30.0",70.5,2.296,0),("7.0",77.6,2.434,0),("3.0",70.5,2.515,0),("0.7",77.6,2.566,0)],
 "d":[("0.7",-77.2,1.984,0),("30.0",70.5,2.275,0),("7.0",77.6,2.485,0),("3.0",70.5,2.545,0),("0.7",77.6,2.614,0)],
 "e":[("30.0",22.5,2.005,8),("7.0",70.5,2.296,0),("3.0",73.4,2.374,0),("0.7",76.9,2.446,0)],
 "f":[("3.0",-14.5,.97,0),("70.0",6,1.225,45),("30.0",69.8,2.185,0),("7.0",77,2.41,0),("3.0",73,2.47,0),("0.7",76.9,2.545,0)],
 "g":[("0.7",-76,1.066,0),("3.0",-41,1.105,0),("70.0",-8,1.15,8),("30.0",11.2,1.96,0),("7.0",74,2.416,0),("3.0",70,2.48,0),("0.7",77,2.566,0)],
 "h":[("0.7",-76,1.066,0),("3.0",-78,1.234,0),("7.0",-73,1.396,0),("70.0",-5,1.18,15),("30.0",19.4,1.945,5),("7.0",74.5,2.41,0),("3.0",70,2.485,0),("0.7",77,2.554,0)],
}

LAT_TICKS = [-90,-60,-30,0,30,60,90]
LAT_MINOR = [-80,-70,-50,-40,-20,-10,10,20,40,50,70,80]
P_TICKS = [10,100,1000]
P_MINOR = [4,5,6,7,8,9,20,30,40,50,60,70,80,90,200,300,400,500,600,700,800,900]
ALT_LABELS = [35,30,25,20,15,10,5]
ALT_LOGP = [0.745,1.06,1.393,1.735,2.086,2.428,2.734]
# faint white model-grid lines that show through the filled bands
GRID_LAT = [-90+2.8125*k for k in range(65)]
GRID_LOGP = [0.5+0.0625*k for k in range(41)]
XS = alt.Scale(domain=[-90,90], nice=False, zero=False)
YS = alt.Scale(type="log", domain=[10**0.483,1000], reverse=True, nice=False)

def txt(s, x, y, size, angle=0, align="center"):
    return alt.Chart(pd.DataFrame({"t":[s]})).mark_text(font=FONT, fontSize=size, angle=angle, align=align, baseline="middle", color="black", clip=False).encode(
        x=alt.value(x), y=alt.value(y), text="t:N")

def edge(v):
    return 93 if v == 90 else -93 if v == -90 else v

def panel(p, left, bottom, right_title):
    layers = []
    base = alt.Chart(pd.DataFrame({"lat":LAT_TICKS,"pres":[100]*7})).mark_point(opacity=0).encode(
        x=alt.X("lat:Q", scale=XS, axis=alt.Axis(values=LAT_TICKS, ticks=False, domain=False, grid=False, labelFont=FONT, labelFontSize=19, labelColor="black",
            labelPadding=10, labelFlush=False, labelOverlap=False, title="Latitude (N)" if bottom else None, titleFont=FONT, titleFontSize=22, titleFontWeight="normal", titlePadding=7)),
        y=alt.Y("pres:Q", scale=YS, axis=alt.Axis(values=P_TICKS, format="d", ticks=False, domain=False, grid=False, labelFont=FONT, labelFontSize=19, labelColor="black",
            labelPadding=6, labelFlush=True, title="Pressure (hPa)" if left else None, titleFont=FONT, titleFontSize=22, titleFontWeight="normal", titlePadding=3.5)))
    layers.append(base)
    for level, lat, logp in C[p]:
        df = pd.DataFrame({"lat":[edge(v) for v in lat], "pres":[10**v for v in logp], "i":range(len(lat))})
        layers.append(alt.Chart(df).mark_line(fill=LEVEL_COLORS[level], stroke="black", strokeWidth=1, interpolate="cardinal-closed", tension=0.2, clip=True).encode(
            x=alt.X("lat:Q", scale=XS), y=alt.Y("pres:Q", scale=YS), order="i:Q"))
    layers.append(alt.Chart(pd.DataFrame({"lat":GRID_LAT})).mark_rule(stroke="white", strokeWidth=0.6, opacity=0.15).encode(x=alt.X("lat:Q", scale=XS)))
    layers.append(alt.Chart(pd.DataFrame({"pres":[10**v for v in GRID_LOGP]})).mark_rule(stroke="white", strokeWidth=0.6, opacity=0.15).encode(y=alt.Y("pres:Q", scale=YS)))
    lab = pd.DataFrame([{"t":t,"lat":la,"pres":10**lo,"ang":an} for t,la,lo,an in LABELS[p]])
    for an, g in lab.groupby("ang"):
        layers.append(alt.Chart(g).mark_text(font=FONT, fontSize=16, angle=int(an), color="#111111").encode(
            x=alt.X("lat:Q", scale=XS), y=alt.Y("pres:Q", scale=YS), text="t:N"))
    vlat, vlog = VOLCANO[p]
    dash = [13,7]
    layers.append(alt.Chart(pd.DataFrame({"lat":[vlat]})).mark_rule(stroke="black", strokeWidth=2, strokeDash=dash).encode(x=alt.X("lat:Q", scale=XS)))
    layers.append(alt.Chart(pd.DataFrame({"pres":[10**vlog]})).mark_rule(stroke="black", strokeWidth=2, strokeDash=dash).encode(y=alt.Y("pres:Q", scale=YS)))
    for vals, ln in ((LAT_TICKS[1:-1],5),(LAT_MINOR,2)):
        d = pd.DataFrame({"lat":vals})
        layers.append(alt.Chart(d).mark_rule(stroke="black", strokeWidth=1.5).encode(x=alt.X("lat:Q", scale=XS), y=alt.value(0), y2=alt.value(ln)))
        layers.append(alt.Chart(d).mark_rule(stroke="black", strokeWidth=1.5).encode(x=alt.X("lat:Q", scale=XS), y=alt.value(H), y2=alt.value(H-ln)))
    for vals, ln in (([10,100],6),(P_MINOR,3)):
        d = pd.DataFrame({"pres":vals})
        layers.append(alt.Chart(d).mark_rule(stroke="black", strokeWidth=1.5).encode(y=alt.Y("pres:Q", scale=YS), x=alt.value(0), x2=alt.value(ln)))
    d = pd.DataFrame({"pres":[10**v for v in ALT_LOGP], "a":ALT_LABELS})
    layers.append(alt.Chart(d).mark_rule(stroke="black", strokeWidth=1.5).encode(y=alt.Y("pres:Q", scale=YS), x=alt.value(W), x2=alt.value(W-6)))
    layers.append(alt.Chart(d).mark_text(font=FONT, fontSize=19, align="left", baseline="middle", clip=False).encode(
        y=alt.Y("pres:Q", scale=YS), x=alt.value(W+5), text="a:N"))
    layers.append(alt.Chart(pd.DataFrame({"v":[0]})).mark_rect(filled=False, stroke="black", strokeWidth=3, clip=False).encode(
        x=alt.value(0), x2=alt.value(W), y=alt.value(0), y2=alt.value(H)))
    layers.append(txt(MONTHS[p], W/2, -21, 27))
    layers.append(txt(p+")", 0, -17, 22.5, align="left"))
    if right_title:
        layers.append(txt("Altitude (km)", W+55.5, H/2-8, 22, angle=90))
    return alt.layer(*layers).properties(width=W, height=H)

LEG_COLORS = ["#FFFFFF","#FEE8D6","#FDD09B","#FDB93F","#FF9F00","#FF8000","#FF5F00","#FF4A00","#E54000","#C83200","#9E2000","#6E0500","#3C0000"]
LEG_LABELS = ["0.5","0.7","1","3","5","7","10","30","50","70","100","300"]
def legend():
    leg = pd.DataFrame({"lo":range(13),"hi":range(1,14),"c":LEG_COLORS})
    ys = alt.Scale(domain=[0,13], range=[996,314], nice=False, zero=False)
    rect = alt.Chart(leg).mark_rect(stroke="black", strokeWidth=2.5).encode(
        x=alt.value(0), x2=alt.value(28), y=alt.Y("lo:Q", scale=ys, axis=None), y2="hi:Q", fill=alt.Fill("c:N", scale=None))
    lab = pd.DataFrame({"v":range(1,13),"t":LEG_LABELS})
    text = alt.Chart(lab).mark_text(font=FONT, fontSize=21, align="left", baseline="top", dy=-1, clip=False).encode(
        x=alt.value(39), y=alt.Y("v:Q", scale=ys, axis=None), text="t:N")
    return alt.layer(rect, text, txt("µg/kg", 25, 285, 24)).properties(width=28, height=1326)

a = panel("a", True, False, False)
a = alt.layer(a, txt("10D_LOW: SO", 183, -66, 38.3), txt("4", 319, -56, 15))
e = panel("e", False, False, True)
e = alt.layer(e, txt("1D_LOW_AV: SO", 187.5, -66, 39.5), txt("4", 346, -56, 15))
col1 = alt.vconcat(a, panel("b",True,False,False), panel("c",True,False,False), panel("d",True,True,False), spacing=6)
col2 = alt.vconcat(e, panel("f",False,False,False), panel("g",False,False,False), panel("h",False,True,True), spacing=6)
pair = alt.hconcat(col1, col2, spacing=6)
chart = alt.hconcat(pair, legend(), spacing=-32.7).properties(padding={"left":5.5,"top":-3,"right":0,"bottom":0}).configure_view(stroke=None)
chart.save("out.html", embed_options={"renderer": "svg", "actions": False})
